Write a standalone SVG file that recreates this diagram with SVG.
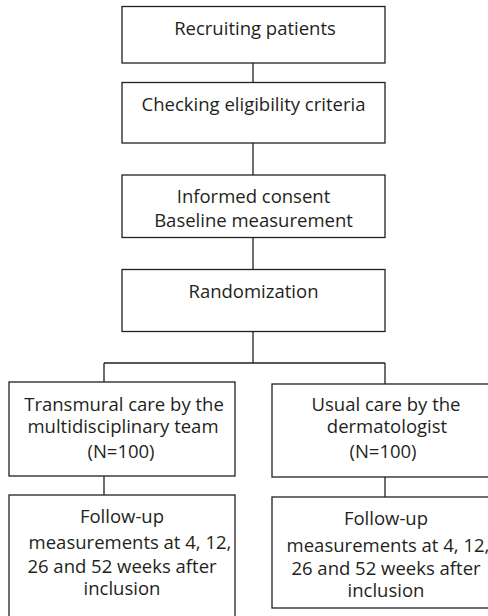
<svg xmlns="http://www.w3.org/2000/svg" width="488" height="616" viewBox="0 0 488 616">
<style>
.box{fill:#fff;stroke:#231f20;stroke-width:1.3}
.t{font-family:"Open Sans","Liberation Sans",Arial,sans-serif;font-size:18.5px;fill:#231f20;text-anchor:middle}
.c{fill:none;stroke:#231f20;stroke-width:1.3}
</style>
<rect width="488" height="616" fill="#fff"/>
<g id="connectors">
<path class="c" d="M253,63 V82 M253,143 V175 M253,238 V269 M253,332 V363 M104,363 H385 M104,363 V382 M385,363 V384 M104,476 V495 M385,477 V497"/>
</g>
<g id="n1"><rect class="box" x="122" y="6.5" width="263" height="56.5"/><text class="t" x="255" y="35">Recruiting patients</text></g>
<g id="n2"><rect class="box" x="122" y="82.5" width="263" height="60.5"/><text class="t" x="253.5" y="111">Checking eligibility criteria</text></g>
<g id="n3"><rect class="box" x="122" y="175" width="263" height="62.5"/><text class="t" x="253.5" y="203">Informed consent</text><text class="t" x="253.5" y="227">Baseline measurement</text></g>
<g id="n4"><rect class="box" x="122" y="269.5" width="263" height="62"/><text class="t" x="253.5" y="298">Randomization</text></g>
<g id="n5"><rect class="box" x="9" y="382" width="226" height="94"/><text class="t" x="124" y="411">Transmural care by the</text><text class="t" x="123" y="433">multidisciplinary team</text><text class="t" x="121" y="458">(N=100)</text></g>
<g id="n6"><rect class="box" x="272" y="384" width="220" height="93"/><text class="t" x="386" y="411">Usual care by the</text><text class="t" x="387" y="433">dermatologist</text><text class="t" x="383" y="458">(N=100)</text></g>
<g id="n7"><rect class="box" x="9" y="495" width="226" height="125"/><text class="t" x="122" y="523">Follow-up</text><text class="t" x="130" y="549">measurements at 4, 12,</text><text class="t" x="122" y="573">26 and 52 weeks after</text><text class="t" x="122" y="595">inclusion</text></g>
<g id="n8"><rect class="box" x="272" y="497" width="220" height="111"/><text class="t" x="386" y="525">Follow-up</text><text class="t" x="388" y="552">measurements at 4, 12,</text><text class="t" x="386" y="575">26 and 52 weeks after</text><text class="t" x="386" y="597">inclusion</text></g>
</svg>
